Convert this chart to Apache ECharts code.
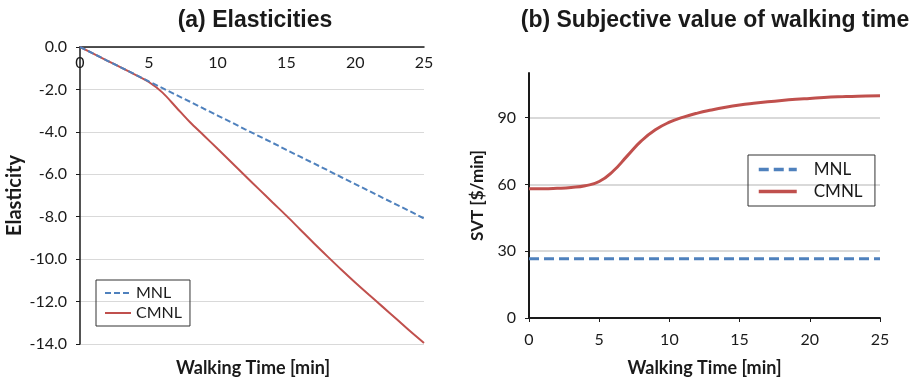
<!DOCTYPE html>
<html>
<head>
<meta charset="utf-8">
<script src="https://cdn.jsdelivr.net/npm/echarts@6/dist/echarts.min.js"></script>
<style>
  html, body { margin: 0; padding: 0; background: #fff; }
  #chart { width: 914px; height: 382px; }
</style>
</head>
<body>
<div id="chart"></div>
<script>
const walkTime = [0, 1, 2, 3, 4, 5, 6, 7, 8, 9, 10, 11, 12, 13, 14, 15, 16, 17, 18, 19, 20, 21, 22, 23, 24, 25]

// (a) elasticities
const elasMNL = [0, -0.32, -0.65, -0.97, -1.29, -1.62, -1.94, -2.26, -2.58, -2.91, -3.23, -3.55, -3.88, -4.2, -4.52, -4.85, -5.17, -5.49, -5.81, -6.14, -6.46, -6.78, -7.11, -7.43, -7.75, -8.08]
const elasCMNL = [0, -0.32, -0.65, -0.97, -1.3, -1.65, -2.15, -2.85, -3.55, -4.17, -4.8, -5.43, -6.07, -6.7, -7.33, -7.95, -8.6, -9.25, -9.88, -10.5, -11.1, -11.68, -12.25, -12.82, -13.4, -13.95]

// (b) subjective value of walking time
const svtMNL = [26.6, 26.6, 26.6, 26.6, 26.6, 26.6, 26.6, 26.6, 26.6, 26.6, 26.6, 26.6, 26.6, 26.6, 26.6, 26.6, 26.6, 26.6, 26.6, 26.6, 26.6, 26.6, 26.6, 26.6, 26.6, 26.6]
const svtCMNL = [58.0, 58.0, 58.2, 58.6, 59.4, 61.3, 66.0, 72.8, 79.5, 84.5, 87.9, 90.2, 92.0, 93.4, 94.6, 95.6, 96.4, 97.1, 97.7, 98.2, 98.6, 99.0, 99.3, 99.5, 99.7, 99.8]

const BLUE = "#4f81bd"
const RED = "#c0504d"
const GRID = "#d9d9d9"
const INK = "#1a1a1a"
const FONT = "Lato, 'Liberation Sans', sans-serif"
const TITLE_FONT = "'Liberation Sans', Arial, sans-serif"

const pairs = (xs, ys) => xs.map((x, i) => [x, ys[i]])

// legend shows only the line, not the default circle symbol
const noSymbol = { color: "rgba(0,0,0,0)", borderWidth: 0 }

const chart = echarts.init(document.getElementById("chart"), null, { renderer: "canvas" })

chart.setOption({
  animation: false,
  textStyle: { fontFamily: FONT, color: INK },
  title: [
    {
      text: "(a) Elasticities",
      left: 250, top: 4, textAlign: "center",
      textStyle: { fontFamily: TITLE_FONT, fontSize: 23, fontWeight: "bold", color: INK }
    },
    {
      text: "(b) Subjective value of walking time",
      left: 710, top: 4, textAlign: "center",
      textStyle: { fontFamily: TITLE_FONT, fontSize: 23, fontWeight: "bold", color: INK }
    }
  ],
  legend: [
    {
      data: ["MNL", "CMNL"],
      orient: "vertical",
      left: 96, top: 280,
      padding: [5, 8, 5, 8],
      itemGap: 4,
      itemWidth: 26, itemHeight: 14,
      itemStyle: noSymbol,
      borderColor: "#333", borderWidth: 1,
      textStyle: { fontFamily: FONT, fontSize: 16, color: INK }
    },
    {
      data: ["MNL ", "CMNL "],
      orient: "vertical",
      left: 748, top: 155,
      padding: [6, 8, 6, 9],
      itemGap: 5,
      itemWidth: 38, itemHeight: 17,
      itemStyle: noSymbol,
      lineStyle: { width: 3.5 },
      borderColor: "#333", borderWidth: 1,
      textStyle: { fontFamily: FONT, fontSize: 17, color: INK, padding: [0, 0, 0, 12] }
    }
  ],
  grid: [
    { left: 80, right: 490, top: 47, bottom: 38 },
    { left: 529, right: 34, top: 73, bottom: 62 }
  ],
  xAxis: [
    {
      gridIndex: 0, type: "value", position: "top",
      min: 0, max: 25, interval: 5,
      axisLine: { show: true, onZero: false, lineStyle: { color: INK, width: 1.5 } },
      axisTick: { show: false },
      axisLabel: { inside: true, margin: 8, fontSize: 16, color: INK, fontFamily: FONT },
      splitLine: { show: false }
    },
    {
      gridIndex: 1, type: "value", position: "bottom",
      min: 0, max: 25, interval: 5,
      name: "Walking Time [min]", nameLocation: "middle", nameGap: 41,
      nameTextStyle: { fontFamily: FONT, fontSize: 18, fontWeight: "bold", color: INK },
      axisLine: { show: true, onZero: false, lineStyle: { color: INK, width: 2 } },
      axisTick: { show: true, length: 4, lineStyle: { color: INK } },
      axisLabel: { margin: 14, fontSize: 16, color: INK, fontFamily: FONT },
      splitLine: { show: false }
    }
  ],
  yAxis: [
    {
      gridIndex: 0, type: "value",
      min: -14, max: 0, interval: 2,
      name: "Elasticity", nameLocation: "middle", nameGap: 55, nameRotate: 90,
      nameTextStyle: { fontFamily: FONT, fontSize: 20, fontWeight: "bold", color: INK },
      axisLine: { show: true, onZero: false, lineStyle: { color: INK, width: 1.5 } },
      axisTick: { show: true, length: 4, lineStyle: { color: INK } },
      axisLabel: { margin: 13, fontSize: 16, color: INK, fontFamily: FONT, formatter: (v) => v.toFixed(1) },
      splitLine: { show: true, lineStyle: { color: GRID, width: 1 } }
    },
    {
      gridIndex: 1, type: "value",
      min: 0, max: 110, interval: 30,
      name: "SVT [$/min]", nameLocation: "middle", nameGap: 43, nameRotate: 90,
      nameTextStyle: { fontFamily: FONT, fontSize: 17, fontWeight: "bold", color: INK },
      axisLine: { show: true, onZero: false, lineStyle: { color: INK, width: 2 } },
      axisTick: { show: true, length: 4, lineStyle: { color: INK } },
      axisLabel: { margin: 13, fontSize: 16, color: INK, fontFamily: FONT, showMaxLabel: false },
      splitLine: { show: true, lineStyle: { color: [GRID, GRID, GRID, GRID, "rgba(0,0,0,0)"], width: 2 } }
    }
  ],
  graphic: [
    {
      type: "text", x: 253, y: 368,
      style: {
        text: "Walking Time [min]", align: "center", verticalAlign: "middle",
        font: "bold 18px " + FONT, fill: INK
      }
    }
  ],
  series: [
    {
      name: "MNL", type: "line", xAxisIndex: 0, yAxisIndex: 0,
      data: pairs(walkTime, elasMNL), showSymbol: false, symbol: "none",
      lineStyle: { color: BLUE, width: 2, type: [6, 3] }, itemStyle: { color: BLUE }, z: 3
    },
    {
      name: "CMNL", type: "line", xAxisIndex: 0, yAxisIndex: 0,
      data: pairs(walkTime, elasCMNL), showSymbol: false, symbol: "none", smooth: 0.3,
      lineStyle: { color: RED, width: 2 }, itemStyle: { color: RED }, z: 2
    },
    {
      name: "MNL ", type: "line", xAxisIndex: 1, yAxisIndex: 1,
      data: pairs(walkTime, svtMNL), showSymbol: false, symbol: "none",
      lineStyle: { color: BLUE, width: 3, type: [10, 5] }, itemStyle: { color: BLUE }
    },
    {
      name: "CMNL ", type: "line", xAxisIndex: 1, yAxisIndex: 1,
      data: pairs(walkTime, svtCMNL), showSymbol: false, symbol: "none", smooth: 0.5,
      lineStyle: { color: RED, width: 3 }, itemStyle: { color: RED }
    }
  ]
})
</script>
</body>
</html>
